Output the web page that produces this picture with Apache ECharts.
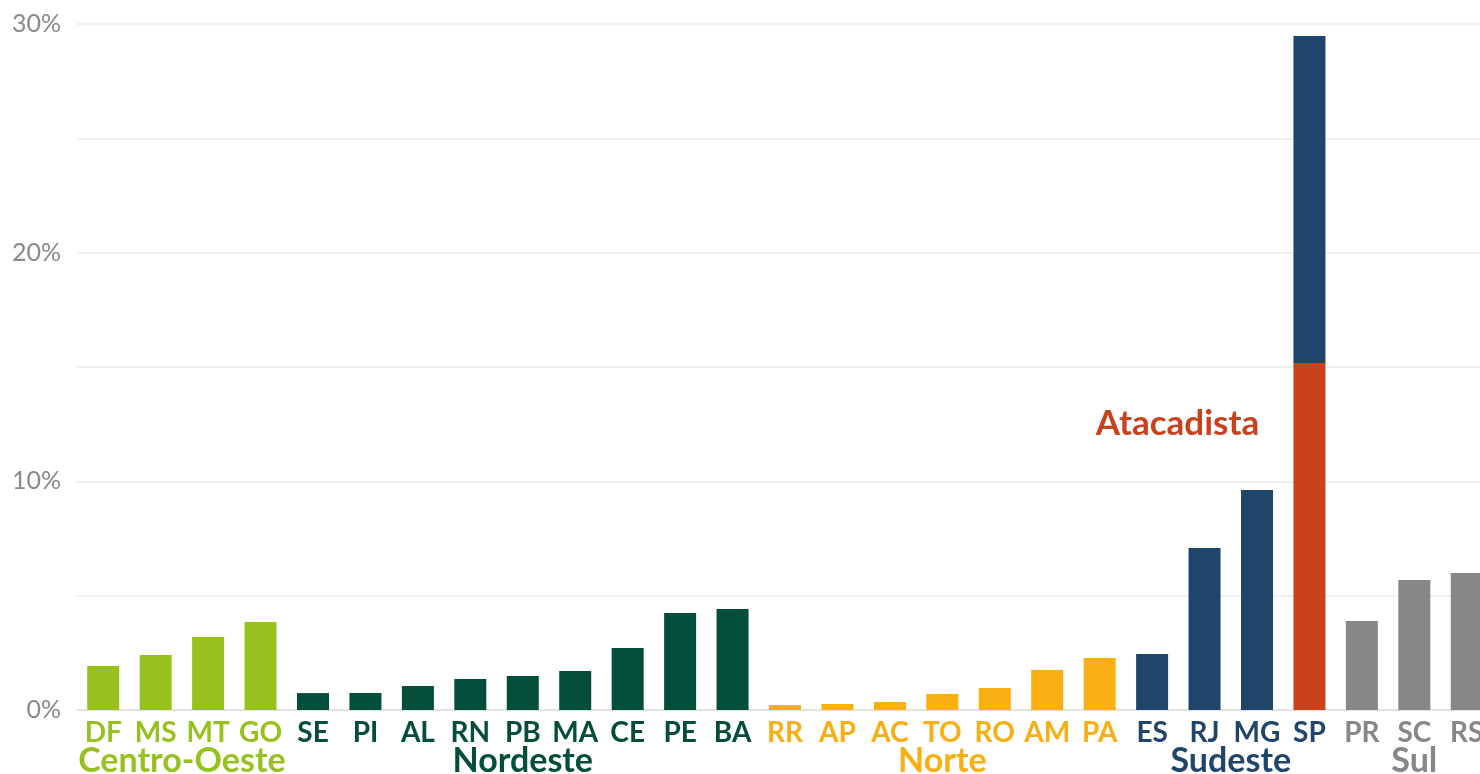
<!DOCTYPE html>
<html>
<head>
<meta charset="utf-8">
<script src="https://cdn.jsdelivr.net/npm/echarts@6/dist/echarts.min.js"></script>
<style>
  html, body { margin: 0; padding: 0; background: #fff; overflow: hidden; }
  #container { width: 1480px; height: 774px; }
</style>
</head>
<body>
<div id="container"></div>
<script>
// states (x axis) and the region each one belongs to
var states = ['DF', 'MS', 'MT', 'GO',
              'SE', 'PI', 'AL', 'RN', 'PB', 'MA', 'CE', 'PE', 'BA',
              'RR', 'AP', 'AC', 'TO', 'RO', 'AM', 'PA',
              'ES', 'RJ', 'MG', 'SP',
              'PR', 'SC', 'RS'];
var stateRegion = [0, 0, 0, 0,
                   1, 1, 1, 1, 1, 1, 1, 1, 1,
                   2, 2, 2, 2, 2, 2, 2,
                   3, 3, 3, 3,
                   4, 4, 4];
// share of each state, in %
var shares = [1.92, 2.40, 3.19, 3.85,
              0.74, 0.74, 1.05, 1.36, 1.49, 1.71, 2.71, 4.24, 4.42,
              0.22, 0.26, 0.35, 0.70, 0.96, 1.75, 2.27,
              2.45, 7.08, 9.62, 29.47,
              3.89, 5.68, 5.99];
// wholesale part of SP
var atacadistaState = 'SP';
var atacadistaValue = 15.17;

var regionNames = ['Centro-Oeste', 'Nordeste', 'Norte', 'Sudeste', 'Sul'];
var regionColors = ['#97c11f', '#034e3a', '#f9ae12', '#1f456b', '#878787'];
var atacadistaColor = '#c9421b';

var font = 'Lato, "Open Sans", sans-serif';

var spIndex = states.indexOf(atacadistaState);

var baseData = shares.map(function (v, i) {
    if (i === spIndex) {
        return { value: atacadistaValue, itemStyle: { color: atacadistaColor } };
    }
    return { value: v, itemStyle: { color: regionColors[stateRegion[i]] } };
});
var topData = shares.map(function (v, i) {
    if (i === spIndex) {
        return { value: +(v - atacadistaValue).toFixed(2), itemStyle: { color: regionColors[stateRegion[i]] } };
    }
    return '-';
});

var rich = {};
regionColors.forEach(function (c, i) {
    rich['r' + i] = { color: c, fontWeight: 'bold', fontSize: 28, fontFamily: font };
});

var dom = document.getElementById('container');
var myChart = echarts.init(dom);

// the plot runs past the right edge of the picture (RS is cut off)
var option = {
    animation: false,
    grid: { left: 77, width: 1416, top: 24, bottom: 64, outerBoundsMode: 'none' },
    xAxis: {
        type: 'category',
        data: states,
        axisLine: { show: true, lineStyle: { color: '#e3e3e3', width: 2 } },
        axisTick: { show: false },
        axisLabel: {
            margin: 9,
            interval: 0,
            formatter: function (val, idx) {
                return '{r' + stateRegion[idx] + '|' + val + '}';
            },
            rich: rich
        }
    },
    yAxis: {
        type: 'value',
        min: 0,
        max: 30,
        interval: 5,
        axisLine: { show: false },
        axisTick: { show: false },
        splitLine: { lineStyle: { color: '#ebebeb', width: 1.5 } },
        axisLabel: {
            margin: 16,
            color: '#8a8a8a',
            fontSize: 25,
            fontFamily: font,
            formatter: function (v) {
                return v % 10 === 0 ? v + '%' : '';
            }
        }
    },
    series: [
        {
            name: 'base',
            type: 'bar',
            stack: 'total',
            barWidth: 32,
            data: baseData
        },
        {
            name: 'top',
            type: 'bar',
            stack: 'total',
            barWidth: 32,
            data: topData
        }
    ]
};

myChart.setOption(option);

// region names under the state labels, centred on their group of states
var groups = regionNames.map(function () { return []; });
stateRegion.forEach(function (r, i) { groups[r].push(i); });
var graphics = groups.map(function (idxs, r) {
    var x0 = myChart.convertToPixel({ xAxisIndex: 0 }, states[idxs[0]]);
    var x1 = myChart.convertToPixel({ xAxisIndex: 0 }, states[idxs[idxs.length - 1]]);
    return {
        type: 'text',
        x: (x0 + x1) / 2,
        y: 761,
        style: {
            text: regionNames[r],
            fill: regionColors[r],
            font: 'bold 34px ' + font,
            textAlign: 'center',
            textVerticalAlign: 'middle'
        }
    };
});
var spX = myChart.convertToPixel({ xAxisIndex: 0 }, atacadistaState);
graphics.push({
    type: 'text',
    x: spX - 132,
    y: 424,
    style: {
        text: 'Atacadista',
        fill: atacadistaColor,
        font: 'bold 35px ' + font,
        textAlign: 'center',
        textVerticalAlign: 'middle'
    }
});
myChart.setOption({ graphic: graphics });
</script>
</body>
</html>
